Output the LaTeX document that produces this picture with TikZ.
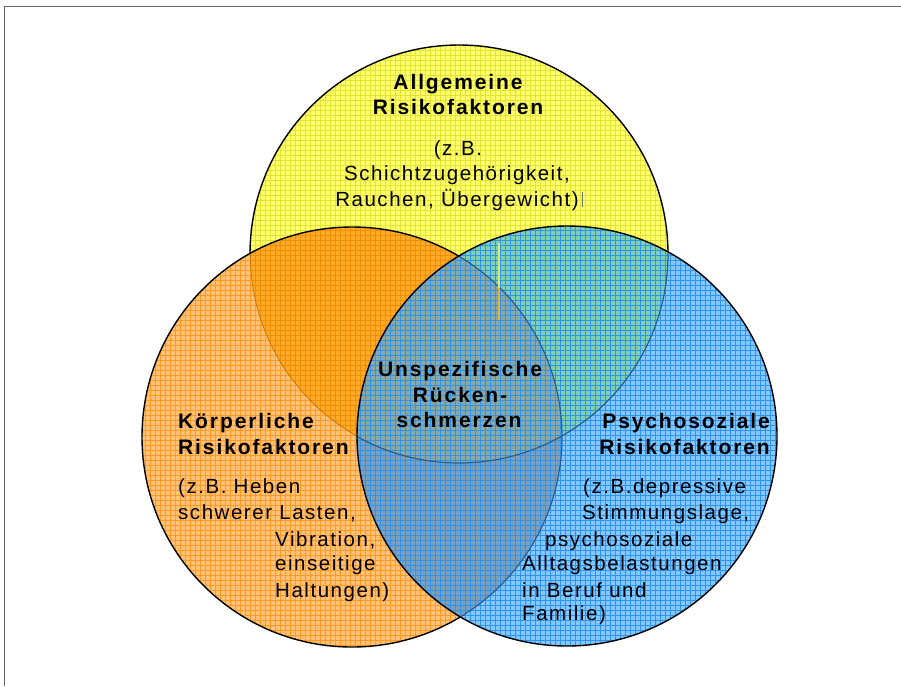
\documentclass[tikz,border=0pt]{standalone}
\usepackage{fontspec}
\setmainfont{Liberation Sans}
\newfontfamily\tsans[LetterSpace=7.5]{Liberation Sans}
\newfontfamily\tsansb[LetterSpace=9]{Liberation Sans}
\definecolor{fillY}{HTML}{FFFF70}
\definecolor{gridYc}{HTML}{E3E330}
\definecolor{fillO}{HTML}{FFC27A}
\definecolor{gridOc}{HTML}{FF9A20}
\definecolor{fillYO}{HTML}{FFAA28}
\definecolor{gridYOc}{HTML}{F08E00}
\definecolor{fillB}{HTML}{85C8FF}
\definecolor{gridBc}{HTML}{2E94EE}
\definecolor{fillYB}{HTML}{80CFAE}
\definecolor{fillOB}{HTML}{7F9FB8}
\definecolor{fillYOB}{HTML}{8CA8A2}
\definecolor{edgeO}{HTML}{B87010}
\definecolor{edgeB}{HTML}{2A5E92}
\tikzset{
  frame/.style={draw=black!60, line width=1pt},
  outl/.style={draw=black, line width=1.4pt},
  gridY/.style={draw=gridYc, line width=0.7pt},
  gridO/.style={draw=gridOc, line width=0.7pt},
  gridYO/.style={draw=gridYOc, line width=0.7pt},
  gridB/.style={draw=gridBc, line width=0.7pt},
  tb/.style={font=\tsansb\bfseries\fontsize{21}{24}\selectfont, inner sep=0pt},
  tr/.style={font=\tsans\fontsize{20.5}{24}\selectfont, inner sep=0pt},
}
\newcommand{\gridlines}[1]{%
  \foreach \gx in {135,140,...,795} \draw[#1] (\gx,25) -- (\gx,675);
  \foreach \gy in {25,30,...,675} \draw[#1] (135,\gy) -- (795,\gy);
}
\begin{document}
\begin{tikzpicture}[x=1pt,y=-1pt]
\useasboundingbox (0,0) rectangle (901,686);
\fill[white] (0,0) rectangle (901,686);
\coordinate (cY) at (459,254);
\coordinate (cO) at (352,437);
\coordinate (cB) at (567,436);
\def\rY{209pt}\def\rO{210pt}\def\rB{210pt}
% frame
\coordinate (f1) at (4,686);
\coordinate (f2) at (4,6);
\coordinate (f3) at (901,6);
\draw[frame] (f1) -- (f2) -- (f3);
% yellow circle
\fill[fillY] (cY) circle[radius=\rY];
\begin{scope}
  \clip (cY) circle[radius=\rY];
  \gridlines{gridY}
\end{scope}
\draw[outl] (cY) circle[radius=\rY];
% orange circle
\fill[fillO] (cO) circle[radius=\rO];
\begin{scope}
  \clip (cO) circle[radius=\rO];
  \gridlines{gridO}
\end{scope}
\begin{scope}
  \clip (cO) circle[radius=\rO];
  \clip (cY) circle[radius=\rY];
  \fill[fillYO] (0,0) rectangle (901,686);
  \gridlines{gridYO}
  \draw[edgeO, line width=1.2pt] (cY) circle[radius=\rY];
\end{scope}
\draw[outl] (cO) circle[radius=\rO];
% blue circle
\fill[fillB] (cB) circle[radius=\rB];
\begin{scope}
  \clip (cB) circle[radius=\rB];
  \clip (cY) circle[radius=\rY];
  \fill[fillYB] (0,0) rectangle (901,686);
\end{scope}
\begin{scope}
  \clip (cB) circle[radius=\rB];
  \clip (cO) circle[radius=\rO];
  \fill[fillOB] (0,0) rectangle (901,686);
\end{scope}
\begin{scope}
  \clip (cB) circle[radius=\rB];
  \clip (cO) circle[radius=\rO];
  \clip (cY) circle[radius=\rY];
  \fill[fillYOB] (0,0) rectangle (901,686);
\end{scope}
\begin{scope}
  \clip (cB) circle[radius=\rB];
  \gridlines{gridB}
  \draw[edgeB, line width=1.2pt] (cY) circle[radius=\rY];
  \draw[edgeB, line width=1.2pt] (cO) circle[radius=\rO];
\end{scope}
\draw[outl] (cB) circle[radius=\rB];
% small stray marks
\coordinate (m1) at (499,243);
\coordinate (m2) at (499,288);
\coordinate (m3) at (499,320);
\draw[draw={rgb,255:red,215;green,235;blue,110}, line width=2pt] (m1) -- (m2);
\draw[draw={rgb,255:red,235;green,175;blue,50}, line width=2pt] (m2) -- (m3);
\coordinate (p1) at (582.5,192);
\coordinate (p2) at (582.5,207);
\draw[black!55, line width=0.8pt] (p1) -- (p2);
% yellow texts
\node[tb, anchor=base] (y1) at (458,89) {Allgemeine};
\node[tb, anchor=base] (y2) at (458,114) {Risikofaktoren};
\node[tr, anchor=base] (y3) at (458,155) {(z.B.};
\node[tr, anchor=base] (y4) at (457,180) {Schichtzugehörigkeit,};
\node[tr, anchor=base] (y5) at (457,206) {Rauchen, Übergewicht)};
% centre texts
\node[tb, anchor=base] (c1) at (460,376) {Unspezifische};
\node[tb, anchor=base] (c2) at (460,402) {Rücken-};
\node[tb, anchor=base] (c3) at (459,427) {schmerzen};
% orange texts
\node[tb, anchor=base west] (o1) at (178,428) {Körperliche};
\node[tb, anchor=base west] (o2) at (178,454) {Risikofaktoren};
\node[tr, anchor=base west] (o3) at (178,493) {(z.B. Heben};
\node[tr, anchor=base west] (o4) at (178,519) {schwerer Lasten,};
\node[tr, anchor=base west] (o5) at (275,546) {Vibration,};
\node[tr, anchor=base west] (o6) at (275,570) {einseitige};
\node[tr, anchor=base west] (o7) at (275,597) {Haltungen)};
% blue texts
\node[tb, anchor=base east] (b1) at (770,428) {Psychosoziale};
\node[tb, anchor=base east] (b2) at (770,454) {Risikofaktoren};
\node[tr, anchor=base west] (b3) at (583,493) {(z.B.depressive};
\node[tr, anchor=base west] (b4) at (582,519) {Stimmungslage,};
\node[tr, anchor=base west] (b5) at (545,546) {psychosoziale};
\node[tr, anchor=base west] (b6) at (522,570) {Alltagsbelastungen};
\node[tr, anchor=base west] (b7) at (522,597) {in Beruf und};
\node[tr, anchor=base west] (b8) at (522,620) {Familie)};
\end{tikzpicture}
\end{document}
